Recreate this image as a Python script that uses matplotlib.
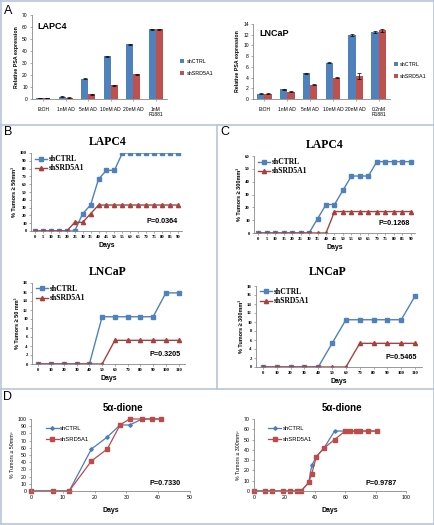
import matplotlib
matplotlib.use("Agg")
import matplotlib.pyplot as plt
from matplotlib.lines import Line2D
import numpy as np

W, H = 435, 525
fig = plt.figure(figsize=(W/100, H/100), dpi=100)
fig.patch.set_facecolor("white")

# ---------------- data ----------------
a_lapc4_cats = ["EtOH", "1nM AD", "5nM AD", "10nM AD", "20nM AD", "1nM\nR1881"]
a_lapc4_ctrl = [1.0, 2.0, 17.0, 35.5, 45.5, 58.0]
a_lapc4_ctrl_err = [0.2, 0.3, 0.5, 0.5, 0.5, 0.4]
a_lapc4_kd = [1.0, 1.1, 4.0, 11.5, 20.5, 58.2]
a_lapc4_kd_err = [0.2, 0.2, 0.4, 0.4, 0.4, 0.4]

a_lncap_cats = ["EtOH", "1nM AD", "5nM AD", "10nM AD", "20nM AD", "0.2nM\nR1881"]
a_lncap_ctrl = [1.0, 1.85, 4.8, 6.8, 12.0, 12.5]
a_lncap_ctrl_err = [0.05, 0.08, 0.08, 0.1, 0.15, 0.15]
a_lncap_kd = [1.0, 1.35, 2.7, 3.95, 4.3, 12.8]
a_lncap_kd_err = [0.05, 0.08, 0.1, 0.1, 0.6, 0.3]

b_lapc4_days = ["0", "5", "10", "15", "20", "25", "30", "35", "40", "45", "50", "55", "60", "65", "70", "75", "80", "85", "90"]
b_lapc4_ctrl = [0, 0, 0, 0, 0, 0, 22.2, 33.3, 66.7, 77.8, 77.8, 100, 100, 100, 100, 100, 100, 100, 100]
b_lapc4_kd = [0, 0, 0, 0, 0, 11.1, 11.1, 22.2, 33.3, 33.3, 33.3, 33.3, 33.3, 33.3, 33.3, 33.3, 33.3, 33.3, 33.3]

b_lncap_days = ["0", "10", "20", "30", "40", "50", "60", "70", "80", "90", "100", "110"]
b_lncap_ctrl = [0, 0, 0, 0, 0, 10.5, 10.5, 10.5, 10.5, 10.5, 15.8, 15.8]
b_lncap_kd = [0, 0, 0, 0, 0, 0, 5.26, 5.26, 5.26, 5.26, 5.26, 5.26]

c_lapc4_days = b_lapc4_days
c_lapc4_ctrl = [0, 0, 0, 0, 0, 0, 0, 11.1, 22.2, 22.2, 33.3, 44.4, 44.4, 44.4, 55.6, 55.6, 55.6, 55.6, 55.6]
c_lapc4_kd = [0, 0, 0, 0, 0, 0, 0, 0, 0, 16.7, 16.7, 16.7, 16.7, 16.7, 16.7, 16.7, 16.7, 16.7, 16.7]

c_lncap_days = b_lncap_days
c_lncap_ctrl = [0, 0, 0, 0, 0, 5.26, 10.5, 10.5, 10.5, 10.5, 10.5, 15.8]
c_lncap_kd = [0, 0, 0, 0, 0, 0, 0, 5.26, 5.26, 5.26, 5.26, 5.26]

d50_days_ctrl = [0, 7, 12, 19, 24, 28, 31, 35, 38, 41]
d50_ctrl = [0, 0, 0, 58.3, 75.0, 91.7, 91.7, 100, 100, 100]
d50_days_kd = [0, 7, 12, 19, 24, 28, 31, 35, 38, 41]
d50_kd = [0, 0, 0, 41.7, 58.3, 91.7, 100, 100, 100, 100]

d300_days_ctrl = [0, 7, 12, 19, 24, 28, 31, 36, 38, 41, 46, 53, 60, 63, 67, 70, 75, 81]
d300_ctrl = [0, 0, 0, 0, 0, 0, 0, 8.3, 25.0, 33.3, 41.7, 58.3, 58.3, 58.3, 58.3, 58.3, 58.3, 58.3]
d300_days_kd = [0, 7, 12, 19, 24, 28, 31, 36, 38, 41, 46, 53, 60, 63, 67, 70, 75, 81]
d300_kd = [0, 0, 0, 0, 0, 0, 0, 8.3, 16.7, 33.3, 41.7, 50.0, 58.3, 58.3, 58.3, 58.3, 58.3, 58.3]

# ---------------- styles ----------------
BLUE = "#4F81BD"
RED = "#C0504D"
RED_B = "#A5423F"
SPINE = "#888888"
BORDER = "#B7C6DA"
SANS = "Liberation Sans"
SERIF = "Liberation Serif"


def rect(x0, y0, x1, y1):
    return [x0 / W, 1 - y1 / H, (x1 - x0) / W, (y1 - y0) / H]


def fxy(x, y):
    return x / W, 1 - y / H


def style_axes(ax):
    for s in ["top", "right"]:
        ax.spines[s].set_visible(False)
    for s in ["left", "bottom"]:
        ax.spines[s].set_color(SPINE)
        ax.spines[s].set_linewidth(0.6)
    ax.tick_params(length=1.5, width=0.5, color=SPINE, pad=1.5)


# ---------------- borders ----------------
def fline(x0, y0, x1, y1):
    a, b = fxy(x0, y0)
    c, d = fxy(x1, y1)
    fig.add_artist(Line2D([a, c], [b, d], transform=fig.transFigure, color=BORDER, lw=1.2))

fline(1, 1, 434, 1)
fline(1, 524, 434, 524)
fline(1, 1, 1, 524)
fline(434, 1, 434, 524)
fline(1, 125, 434, 125)
fline(1, 389, 434, 389)
fline(217, 125, 217, 389)

for lab, x, y in [("A", 8, 11), ("B", 8, 132), ("C", 225, 132), ("D", 8, 397)]:
    fig.text(*fxy(x, y), lab, fontsize=9, family=SANS, ha="center", va="center")


# ---------------- panel A ----------------
def bar_panel(r, cats, ctrl, ctrl_err, kd, kd_err, ymax, ystep, title, tpos, legx):
    ax = fig.add_axes(rect(*r))
    x = np.arange(len(cats))
    w = 0.32
    ax.bar(x - w / 2, ctrl, w, color=BLUE, yerr=ctrl_err, error_kw=dict(lw=0.5, capsize=1.2, capthick=0.5), label="shCTRL")
    ax.bar(x + w / 2, kd, w, color=RED, yerr=kd_err, error_kw=dict(lw=0.5, capsize=1.2, capthick=0.5), label="shSRD5A1")
    ax.set_xlim(-0.5, len(cats) - 0.5)
    ax.set_ylim(0, ymax)
    ax.set_yticks(np.arange(0, ymax + 0.01, ystep))
    ax.set_xticks(x)
    ax.set_xticklabels(cats, fontsize=3.6, family=SANS)
    ax.tick_params(axis="x", length=0)
    for t in ax.get_yticklabels():
        t.set_fontsize(3.6)
        t.set_family(SANS)
    style_axes(ax)
    ax.tick_params(axis="x", pad=4)
    ax.set_ylabel("Relative PSA expression", fontsize=3.8, family=SANS, fontweight="bold", labelpad=2)
    ax.text(tpos[0], tpos[1], title, transform=ax.transAxes, fontsize=6.5, family=SANS, fontweight="bold", va="center")
    ax.legend(loc="center left", bbox_to_anchor=(legx, 0.38), frameon=False,
              prop=dict(family=SANS, size=3.9), handlelength=0.7, handleheight=0.7, handletextpad=0.4,
              labelspacing=1.3, borderpad=0, borderaxespad=0)
    return ax

bar_panel((32, 15, 167, 99), a_lapc4_cats, a_lapc4_ctrl, a_lapc4_ctrl_err, a_lapc4_kd, a_lapc4_kd_err,
          70, 10, "LAPC4", (0.04, 0.86), 1.1)
bar_panel((253, 24, 390, 99), a_lncap_cats, a_lncap_ctrl, a_lncap_ctrl_err, a_lncap_kd, a_lncap_kd_err,
          14, 2, "LNCaP", (0.05, 0.88), 1.03)


# ---------------- panels B / C ----------------
def line_panel(r, days, ctrl, kd, ymax, ystep, ylabel, pval, title, txy):
    ax = fig.add_axes(rect(*r))
    x = np.arange(len(days))
    ax.plot(x, ctrl, color=BLUE, lw=1.0, marker="s", ms=2.6, mfc=BLUE, mec=BLUE, label="shCTRL")
    ax.plot(x, kd, color=RED_B, lw=1.0, marker="^", ms=3.0, mfc=RED_B, mec=RED_B, label="shSRD5A1")
    ax.set_xlim(-0.5, len(days) - 0.5)
    ax.set_ylim(0, ymax)
    ax.set_yticks(np.arange(0, ymax + 0.01, ystep))
    ax.set_xticks(x)
    ax.set_xticklabels(days)
    for t in ax.get_xticklabels() + ax.get_yticklabels():
        t.set_fontsize(3.4)
        t.set_family(SERIF)
        t.set_fontweight("bold")
    style_axes(ax)
    ax.set_xlabel("Days", fontsize=5, family=SANS, fontweight="bold", labelpad=2)
    ax.set_ylabel(ylabel, fontsize=4, family=SANS, fontweight="bold", labelpad=2)
    ax.legend(loc="upper left", bbox_to_anchor=(-0.01, 1.04), frameon=False,
              prop=dict(family=SERIF, size=5.5, weight="bold"), handlelength=1.6, handletextpad=0.2, labelspacing=0.15, borderpad=0.2)
    ax.text(0.97, 0.12, pval, transform=ax.transAxes, ha="right", va="center", fontsize=5.2, family=SANS, fontweight="bold")
    fig.text(*fxy(*txy), title, fontsize=8.5, family=SERIF, fontweight="bold", ha="center", va="center")
    return ax

line_panel((31, 153, 182, 231), b_lapc4_days, b_lapc4_ctrl, b_lapc4_kd, 100, 10,
           "% Tumors \u2265 50mm\u00b3", "P=0.0364", "LAPC4", (108, 142))
line_panel((32, 283, 185, 364), b_lncap_days, b_lncap_ctrl, b_lncap_kd, 18, 2,
           "% Tumors \u2265 50 mm\u00b3", "P=0.3205", "LNCaP", (108, 272))
line_panel((254, 156, 415, 233), c_lapc4_days, c_lapc4_ctrl, c_lapc4_kd, 60, 10,
           "% Tumors \u2265 300mm\u00b3", "P=0.1268", "LAPC4", (325, 145))
line_panel((256, 286, 422, 367), c_lncap_days, c_lncap_ctrl, c_lncap_kd, 18, 2,
           "% Tumors \u2265 300mm\u00b3", "P=0.5465", "LNCaP", (328, 272))


# ---------------- panel D ----------------
def d_panel(r, dc, ctrl, dk, kd, xmax, xstep, ymax, ystep, ylabel, pval, txy):
    ax = fig.add_axes(rect(*r))
    ax.plot(dc, ctrl, color="#4A7EBB", lw=0.9, marker="D", ms=1.8, mfc="#4A7EBB", mec="#4A7EBB", label="shCTRL")
    ax.plot(dk, kd, color="#BE4B48", lw=0.9, marker="s", ms=2.6, mfc="#BE4B48", mec="#BE4B48", label="shSRD5A1")
    ax.set_xlim(0, xmax)
    ax.set_ylim(0, ymax)
    ax.set_xticks(np.arange(0, xmax + 0.01, xstep))
    ax.set_yticks(np.arange(0, ymax + 0.01, ystep))
    for t in ax.get_xticklabels() + ax.get_yticklabels():
        t.set_fontsize(3.8)
        t.set_family(SANS)
    style_axes(ax)
    for ln in ax.lines:
        ln.set_clip_on(False)
    ax.set_xlabel("Days", fontsize=5, family=SANS, fontweight="bold", labelpad=5)
    ax.set_ylabel(ylabel, fontsize=3.8, family=SANS, labelpad=2)
    ax.legend(loc="upper left", bbox_to_anchor=(0.06, 0.98), frameon=False,
              prop=dict(family=SANS, size=4.2), handlelength=2.2, handletextpad=0.2, labelspacing=1.0)
    ax.text(0.94, 0.10, pval, transform=ax.transAxes, ha="right", va="center", fontsize=5.2, family=SANS, fontweight="bold")
    fig.text(*fxy(*txy), "5\u03b1-dione", fontsize=7, family=SANS, fontweight="bold", ha="center", va="center")
    return ax

d_panel((31, 419, 190, 491), d50_days_ctrl, d50_ctrl, d50_days_kd, d50_kd, 50, 10, 100, 10,
        "% Tumors \u2265 50mm\u00b3", "P=0.7330", (123, 408))
d_panel((254, 419, 406, 491), d300_days_ctrl, d300_ctrl, d300_days_kd, d300_kd, 100, 20, 70, 10,
        "% Tumors \u2265 300mm\u00b3", "P=0.9787", (342, 408))

fig.savefig("out.png", dpi=100, facecolor="white")
